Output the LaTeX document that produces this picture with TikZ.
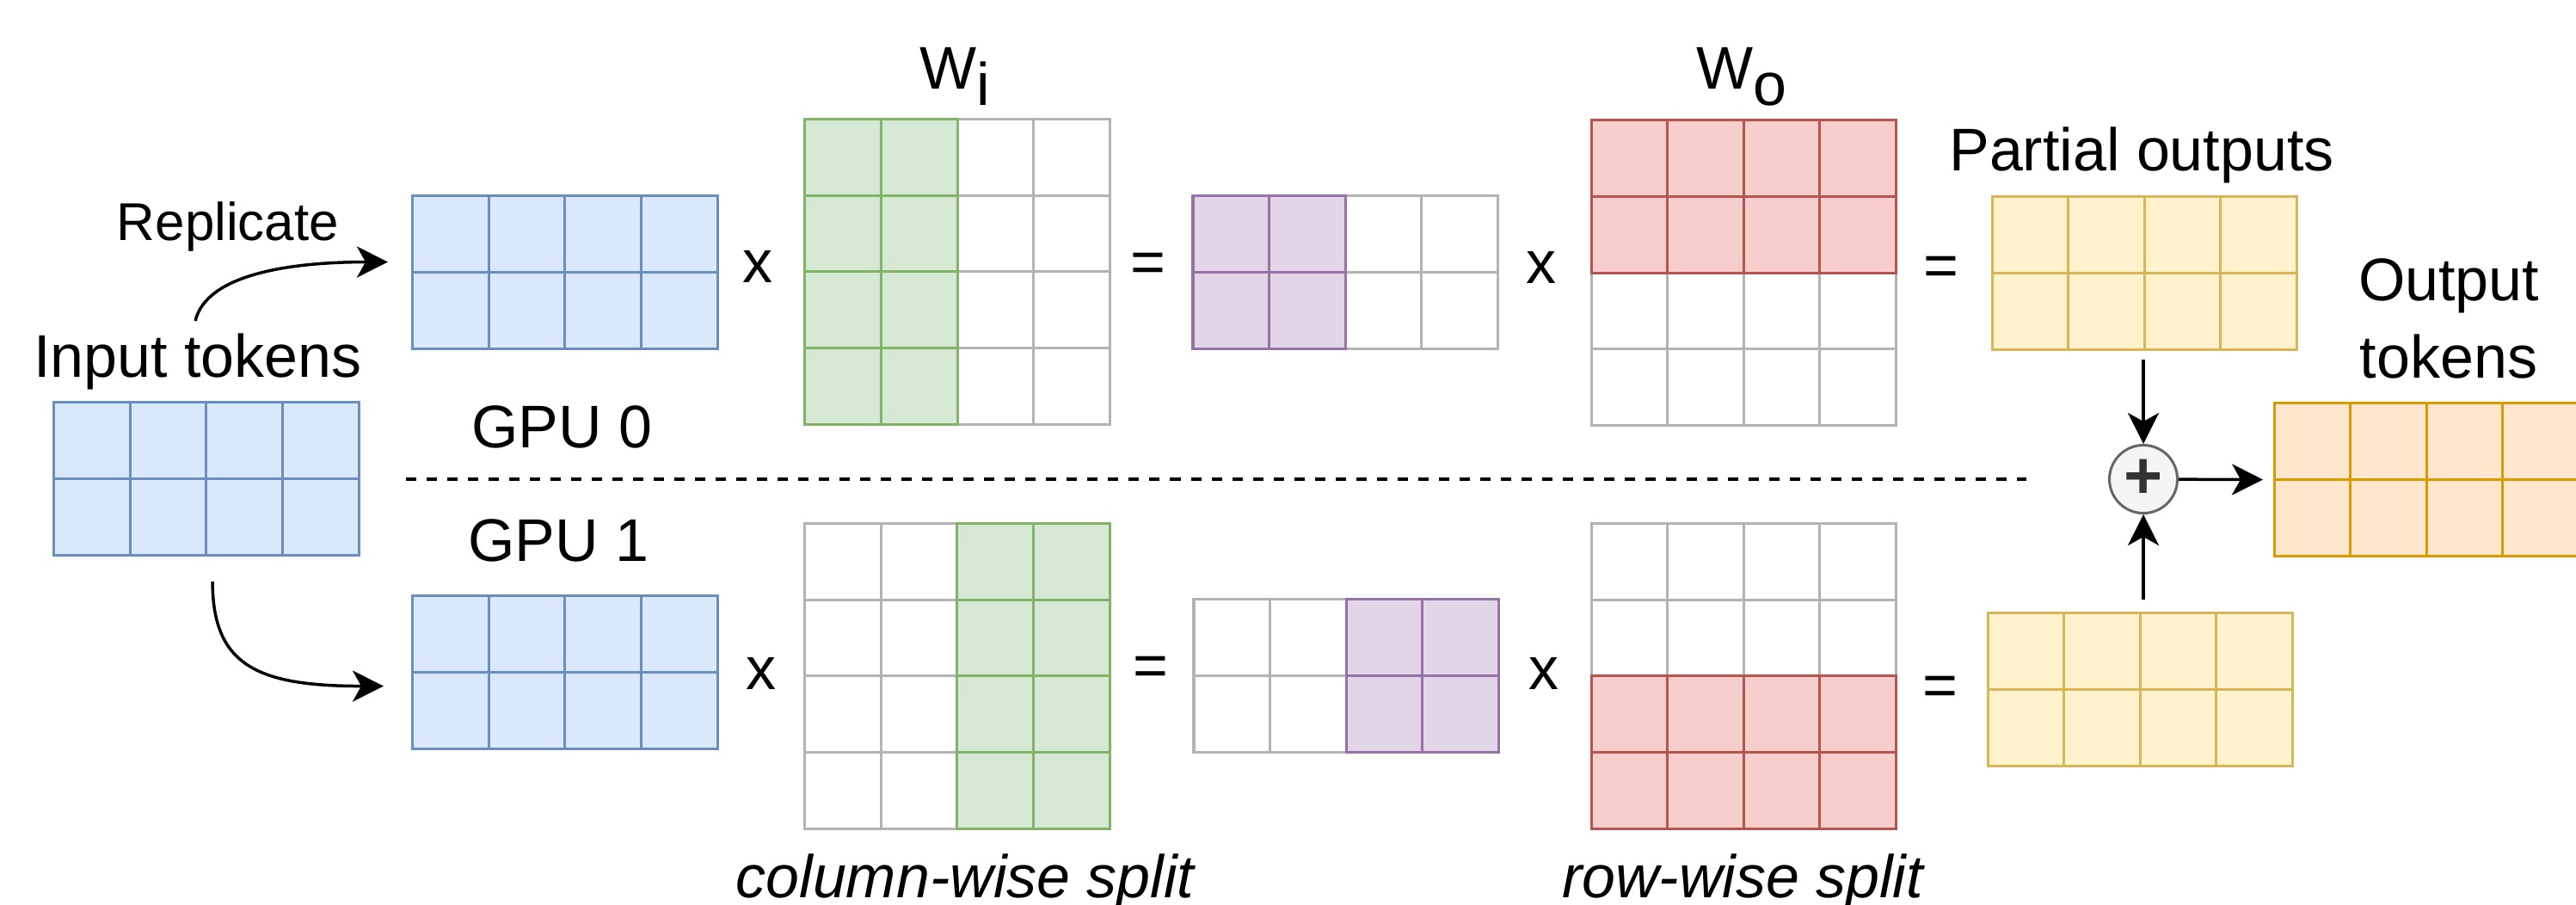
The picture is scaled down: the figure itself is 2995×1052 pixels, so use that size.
\documentclass[tikz,border=0pt]{standalone}
\usepackage{fontspec}
\setmainfont{Liberation Sans}
\usetikzlibrary{arrows.meta}

\definecolor{blueFill}{HTML}{DAE8FC}
\definecolor{blueLine}{HTML}{6C8EBF}
\definecolor{greenFill}{HTML}{D5E8D4}
\definecolor{greenLine}{HTML}{82B366}
\definecolor{purpleFill}{HTML}{E1D5E7}
\definecolor{purpleLine}{HTML}{9673A6}
\definecolor{redFill}{HTML}{F8CECC}
\definecolor{redLine}{HTML}{B85450}
\definecolor{yellowFill}{HTML}{FFF2CC}
\definecolor{yellowLine}{HTML}{D6B656}
\definecolor{orangeFill}{HTML}{FFE6CC}
\definecolor{orangeLine}{HTML}{D79B00}
\definecolor{grayLine}{HTML}{B3B3B3}
\definecolor{sumFill}{HTML}{F5F5F5}
\definecolor{sumLine}{HTML}{666666}
\definecolor{sumText}{HTML}{333333}

\def\cs{88.5}

\tikzset{
    objBlock/.style={rectangle, anchor=north west, inner sep=0pt, outer sep=0pt, minimum width=3.54cm},
    objCell/.style={rectangle, draw, line width=0.03cm, inner sep=0pt, outer sep=0pt, minimum size=0.885cm},
    cellBlue/.style={objCell, draw=blueLine, fill=blueFill},
    cellGreen/.style={objCell, draw=greenLine, fill=greenFill},
    cellPurple/.style={objCell, draw=purpleLine, fill=purpleFill},
    cellRed/.style={objCell, draw=redLine, fill=redFill},
    cellYellow/.style={objCell, draw=yellowLine, fill=yellowFill},
    cellOrange/.style={objCell, draw=orangeLine, fill=orangeFill},
    cellGray/.style={objCell, draw=grayLine, fill=white},
    objLabel/.style={inner sep=0pt, font=\fontsize{19.9}{25.6}\selectfont},
    objSmall/.style={inner sep=0pt, font=\fontsize{17.6}{21}\selectfont},
    objSum/.style={circle, draw=sumLine, fill=sumFill, line width=0.03cm, minimum size=0.79cm, inner sep=0pt, text=sumText, font=\fontsize{22}{22}\selectfont\bfseries},
    gpuSplit/.style={line width=0.04cm, dash pattern=on 0.12cm off 0.12cm},
    arrow/.style={line width=0.035cm, ->, >={Stealth[length=0.36cm, width=0.36cm, inset=0.1cm]}}
}

% cells of a block: block, columns, rows, style
\newcommand{\fillCells}[4]{%
    \foreach \col in {#2}{\foreach \row in {#3}{%
        \node[#4] at ([shift={(\col*\cs-\cs/2,\row*\cs-\cs/2)}]#1.north west) {};}}}

\begin{document}
\begin{tikzpicture}[x=0.01cm, y=-0.01cm]
    \useasboundingbox (0,0) rectangle (2995,1052);

    \node (in)  [objBlock, minimum height=1.77cm] at (63,468) {};
    \node (in0) [objBlock, minimum height=1.77cm] at (480,228) {};
    \node (in1) [objBlock, minimum height=1.77cm] at (480,693) {};
    \node (wi0) [objBlock, minimum height=3.54cm] at (936,139) {};
    \node (wi1) [objBlock, minimum height=3.54cm] at (936,609) {};
    \node (h0)  [objBlock, minimum height=1.77cm] at (1387,228) {};
    \node (h1)  [objBlock, minimum height=1.77cm] at (1388,697) {};
    \node (wo0) [objBlock, minimum height=3.54cm] at (1850,140) {};
    \node (wo1) [objBlock, minimum height=3.54cm] at (1850,609) {};
    \node (p0)  [objBlock, minimum height=1.77cm] at (2316,229) {};
    \node (p1)  [objBlock, minimum height=1.77cm] at (2311,713) {};
    \node (out) [objBlock, minimum height=1.77cm] at (2644,469) {};

    \fillCells{in}{1,...,4}{1,2}{cellBlue}
    \fillCells{in0}{1,...,4}{1,2}{cellBlue}
    \fillCells{in1}{1,...,4}{1,2}{cellBlue}
    \fillCells{wi0}{1,...,4}{1,...,4}{cellGray}
    \fillCells{wi0}{1,2}{1,...,4}{cellGreen}
    \fillCells{wi1}{1,...,4}{1,...,4}{cellGray}
    \fillCells{wi1}{3,4}{1,...,4}{cellGreen}
    \fillCells{h0}{1,...,4}{1,2}{cellGray}
    \fillCells{h0}{1,2}{1,2}{cellPurple}
    \fillCells{h1}{1,...,4}{1,2}{cellGray}
    \fillCells{h1}{3,4}{1,2}{cellPurple}
    \fillCells{wo0}{1,...,4}{1,...,4}{cellGray}
    \fillCells{wo0}{1,...,4}{1,2}{cellRed}
    \fillCells{wo1}{1,...,4}{1,...,4}{cellGray}
    \fillCells{wo1}{1,...,4}{3,4}{cellRed}
    \fillCells{p0}{1,...,4}{1,2}{cellYellow}
    \fillCells{p1}{1,...,4}{1,2}{cellYellow}
    \fillCells{out}{1,...,4}{1,2}{cellOrange}

    \node (lblRep)  [objSmall, anchor=base] at (265,280) {Replicate};
    \node (lblIn)   [objLabel, anchor=base] at (230,438) {Input tokens};
    \node (lblGpu0) [objLabel, anchor=base] at (653,520) {GPU 0};
    \node (lblGpu1) [objLabel, anchor=base] at (649,652) {GPU 1};
    \node (lblWi)   [objLabel, anchor=base] at (1110,104) {W\raisebox{-0.18cm}{i}};
    \node (lblWo)   [objLabel, anchor=base] at (2025,104) {W\raisebox{-0.18cm}{o}};
    \node (lblPart) [objLabel, anchor=base] at (2490,199) {Partial outputs};
    \node (lblOut)  [objLabel, align=center] at (2847,370) {Output\\tokens};
    \node (lblCol)  [objLabel, anchor=base] at (1122,1043) {\itshape column-wise split};
    \node (lblRow)  [objLabel, anchor=base] at (2026,1043) {\itshape row-wise split};

    \node (mul0a) [objLabel] at (881,310) {x};
    \node (eq0a)  [objLabel] at (1335,311) {=};
    \node (mul0b) [objLabel] at (1792,311) {x};
    \node (eq0b)  [objLabel] at (2257,315) {=};
    \node (mul1a) [objLabel] at (885,783) {x};
    \node (eq1a)  [objLabel] at (1338,780) {=};
    \node (mul1b) [objLabel] at (1795,783) {x};
    \node (eq1b)  [objLabel] at (2256,803) {=};

    \node (sum) [objSum] at (2492,557) {+};

    \draw[gpuSplit] (472,557) -- (2356,557);

    \draw[arrow] ([shift={(-13,-95)}]in.north) .. controls +(13,-55) and +(-111,0) .. ([shift={(-29,-12)}]in0.west);
    \draw[arrow] ([shift={(7,31)}]in.south) .. controls +(0,98) and +(-146,0) .. ([shift={(-34,16)}]in1.west);

    \draw[arrow] ([yshift=-0.12cm]sum.north |- p0.south) -- (sum.north);
    \draw[arrow] ([yshift=0.16cm]sum.south |- p1.north) -- (sum.south);
    \draw[arrow] (sum) -- ([xshift=-0.13cm]out.west);

\end{tikzpicture}
\end{document}
